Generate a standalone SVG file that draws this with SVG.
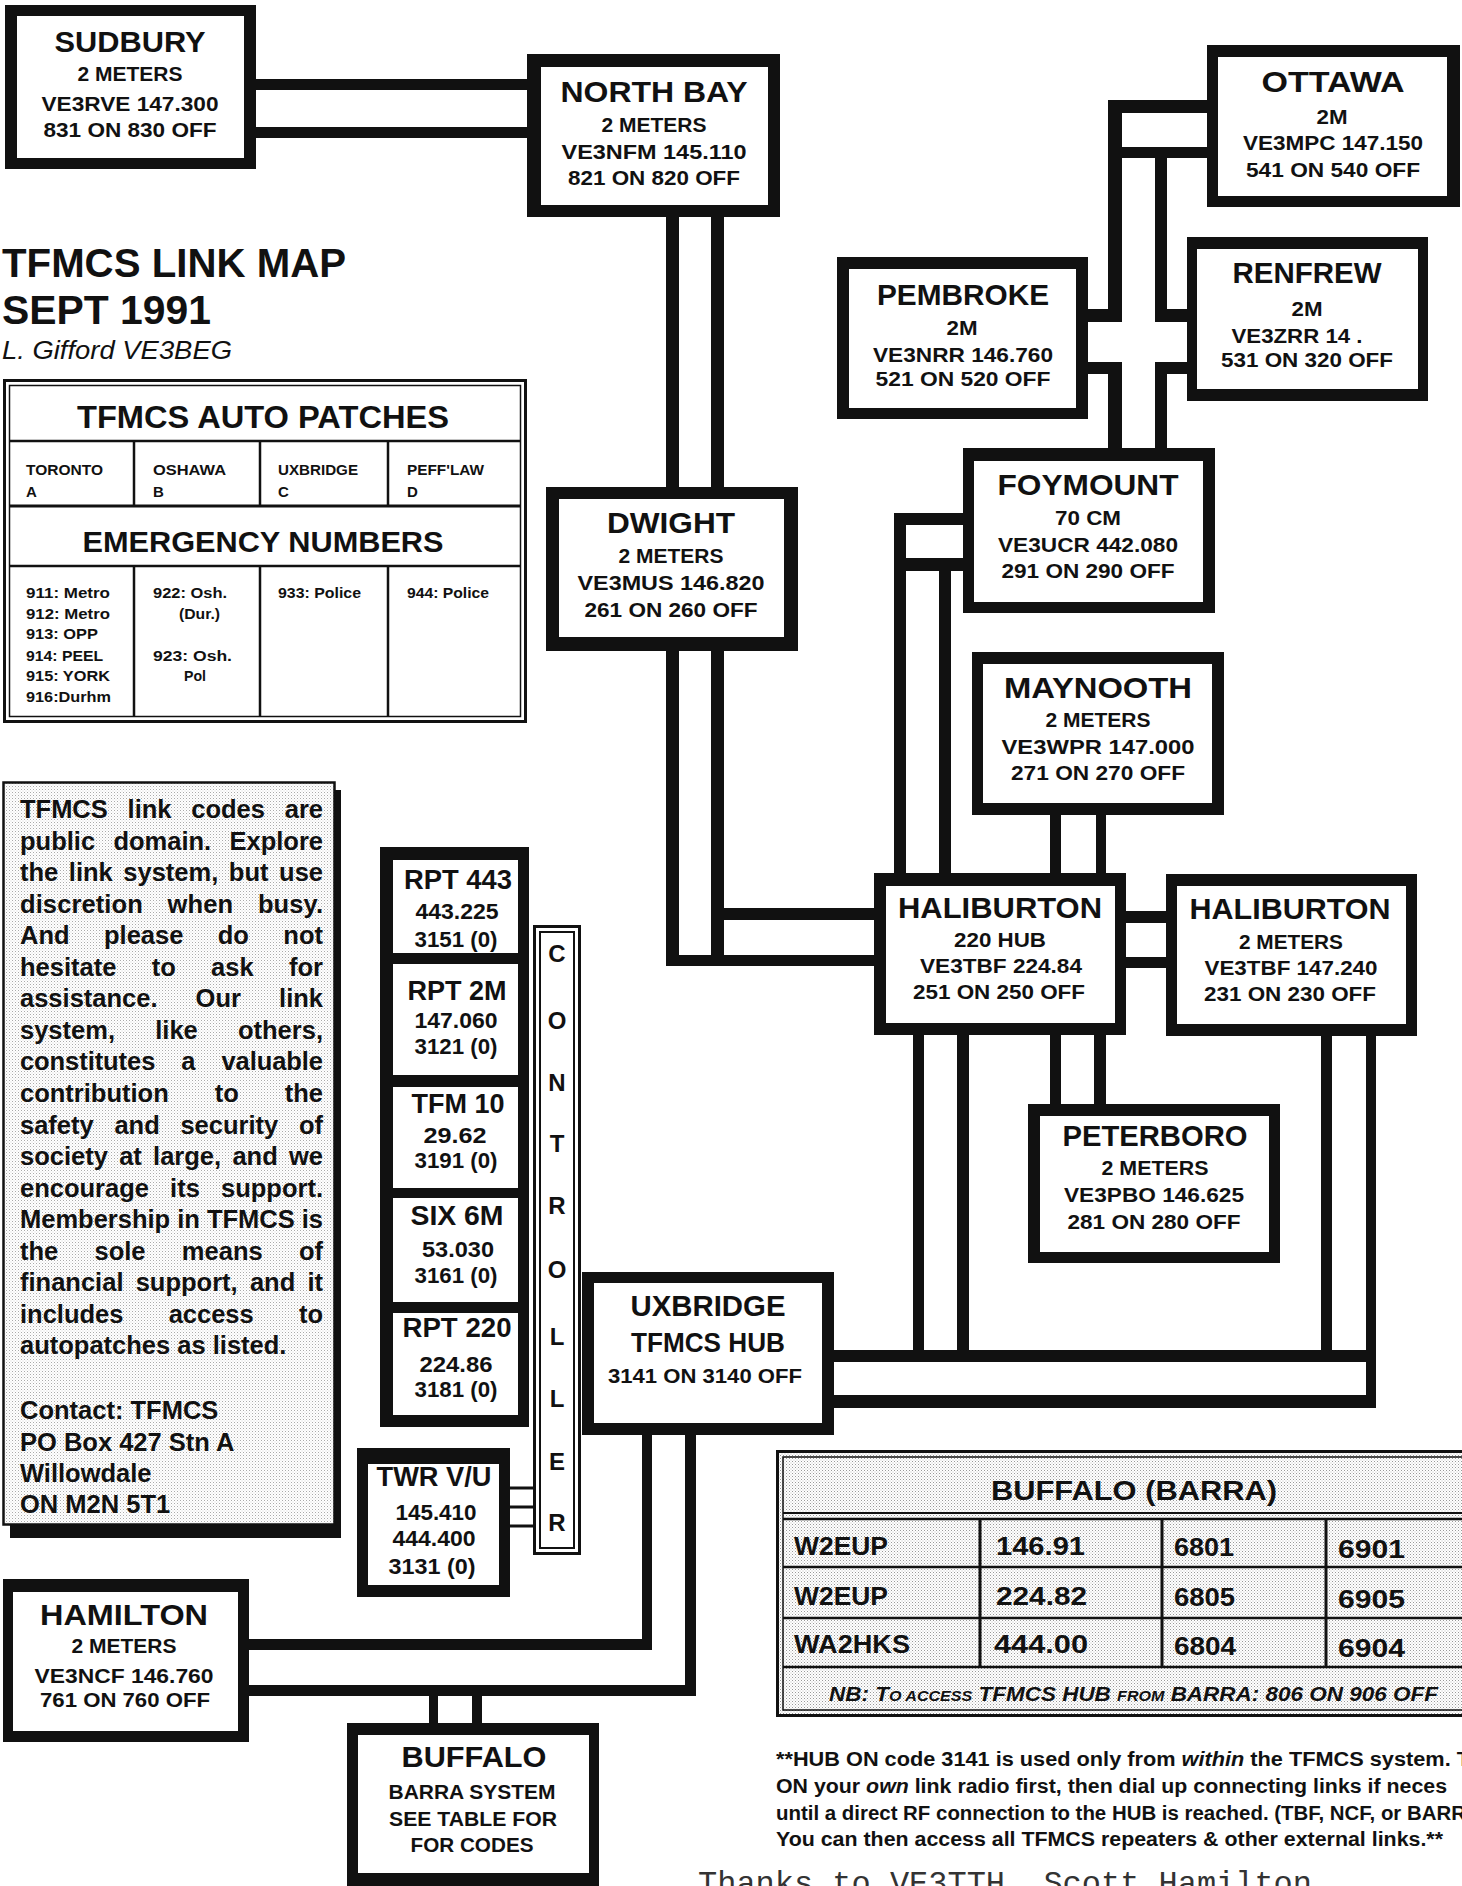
<svg xmlns="http://www.w3.org/2000/svg" width="1462" height="1886" viewBox="0 0 1462 1886">
<defs>
<pattern id="dots" width="3" height="3" patternUnits="userSpaceOnUse"><rect width="3" height="3" fill="#fff"/><rect x="0" y="0" width="1" height="1" fill="#999"/><rect x="1.5" y="1.5" width="1" height="1" fill="#bbb"/></pattern>
<pattern id="dotsL" width="3" height="3" patternUnits="userSpaceOnUse"><rect width="3" height="3" fill="#fff"/><rect x="0" y="0" width="1" height="1" fill="#aaa"/><rect x="1.5" y="1.5" width="1" height="1" fill="#d4d4d4"/></pattern>
<style>
.o{fill:#111}
.i{fill:#fff}
text{font-family:"Liberation Sans",Arial,sans-serif;font-weight:bold;fill:#111}
.h{font-size:30px;text-anchor:middle}
.s{font-size:20px;text-anchor:middle}
.r{font-size:27px;text-anchor:middle}
.rs{font-size:22px;text-anchor:middle}
.p{font-size:25.5px}
.c{font-size:15px}
.f{font-size:20px}
.cl{font-size:24px;text-anchor:middle}
.tb{font-size:25px}
.ln{fill:none;stroke:#111}
</style>
</defs>
<rect width="1462" height="1886" fill="#fff"/>

<g id="connectors" fill="#111">
<rect x="256" y="79" width="271" height="11"/>
<rect x="256" y="127" width="271" height="11"/>
<rect x="666" y="217" width="13" height="270"/>
<rect x="711" y="217" width="13" height="270"/>
<rect x="666" y="651" width="13" height="315"/>
<rect x="711" y="651" width="13" height="304"/>
<rect x="724" y="908" width="150" height="12"/>
<rect x="666" y="955" width="208" height="11"/>
<rect x="1108" y="100" width="99" height="13"/>
<rect x="1122" y="147" width="85" height="11"/>
<rect x="1108" y="100" width="14" height="222"/>
<rect x="1108" y="362" width="14" height="86"/>
<rect x="1155" y="158" width="12" height="164"/>
<rect x="1155" y="362" width="12" height="86"/>
<rect x="1088" y="309" width="20" height="13"/>
<rect x="1088" y="362" width="20" height="12"/>
<rect x="1167" y="309" width="20" height="13"/>
<rect x="1167" y="362" width="20" height="12"/>
<rect x="894" y="513" width="69" height="12"/>
<rect x="906" y="558" width="57" height="13"/>
<rect x="894" y="513" width="12" height="360"/>
<rect x="939" y="571" width="12" height="302"/>
<rect x="1050" y="815" width="11" height="58"/>
<rect x="1096" y="815" width="10" height="58"/>
<rect x="1126" y="911" width="40" height="12"/>
<rect x="1126" y="957" width="40" height="11"/>
<rect x="1050" y="1035" width="11" height="69"/>
<rect x="1094" y="1035" width="12" height="69"/>
<rect x="913" y="1035" width="11" height="315"/>
<rect x="957" y="1035" width="12" height="315"/>
<rect x="1321" y="1036" width="11" height="314"/>
<rect x="1366" y="1036" width="10" height="372"/>
<rect x="834" y="1350" width="542" height="12"/>
<rect x="834" y="1395" width="542" height="13"/>
<rect x="642" y="1435" width="10" height="215"/>
<rect x="685" y="1435" width="11" height="261"/>
<rect x="249" y="1639" width="403" height="11"/>
<rect x="249" y="1685" width="447" height="11"/>
<rect x="429" y="1696" width="9" height="27"/>
<rect x="472" y="1696" width="10" height="27"/>
<rect x="510" y="1486.5" width="24" height="3"/>
<rect x="510" y="1505.5" width="24" height="3"/>
<rect x="510" y="1524.5" width="24" height="3"/>
</g>

<g id="sudbury">
<rect class="o" x="5" y="5" width="251" height="164"/><rect class="i" x="17" y="16" width="227" height="142"/>
<text class="h" x="130" y="52" textLength="151" lengthAdjust="spacingAndGlyphs">SUDBURY</text>
<text class="s" x="130" y="81" textLength="105" lengthAdjust="spacingAndGlyphs">2 METERS</text>
<text class="s" x="130" y="111" textLength="177" lengthAdjust="spacingAndGlyphs">VE3RVE 147.300</text>
<text class="s" x="130" y="137" textLength="173" lengthAdjust="spacingAndGlyphs">831 ON 830 OFF</text>
</g>
<g id="northbay">
<rect class="o" x="527" y="54" width="253" height="163"/><rect class="i" x="541" y="67" width="227" height="138"/>
<text class="h" x="654" y="102" textLength="187" lengthAdjust="spacingAndGlyphs">NORTH BAY</text>
<text class="s" x="654" y="132" textLength="105" lengthAdjust="spacingAndGlyphs">2 METERS</text>
<text class="s" x="654" y="159" textLength="185" lengthAdjust="spacingAndGlyphs">VE3NFM 145.110</text>
<text class="s" x="654" y="185" textLength="172" lengthAdjust="spacingAndGlyphs">821 ON 820 OFF</text>
</g>
<g id="ottawa">
<rect class="o" x="1207" y="45" width="253" height="162"/><rect class="i" x="1218" y="57" width="229" height="139"/>
<text class="h" x="1333" y="92" textLength="143" lengthAdjust="spacingAndGlyphs">OTTAWA</text>
<text class="s" x="1332" y="124" textLength="31" lengthAdjust="spacingAndGlyphs">2M</text>
<text class="s" x="1333" y="150" textLength="180" lengthAdjust="spacingAndGlyphs">VE3MPC 147.150</text>
<text class="s" x="1333" y="177" textLength="174" lengthAdjust="spacingAndGlyphs">541 ON 540 OFF</text>
</g>
<g id="renfrew">
<rect class="o" x="1187" y="237" width="241" height="164"/><rect class="i" x="1197" y="249" width="221" height="140"/>
<text class="h" x="1307" y="283" textLength="149" lengthAdjust="spacingAndGlyphs">RENFREW</text>
<text class="s" x="1307" y="316" textLength="31" lengthAdjust="spacingAndGlyphs">2M</text>
<text class="s" x="1297" y="343" textLength="131" lengthAdjust="spacingAndGlyphs">VE3ZRR 14 .</text>
<text class="s" x="1307" y="367" textLength="172" lengthAdjust="spacingAndGlyphs">531 ON 320 OFF</text>
</g>
<g id="pembroke">
<rect class="o" x="837" y="257" width="251" height="162"/><rect class="i" x="849" y="269" width="227" height="139"/>
<text class="h" x="963" y="305" textLength="172" lengthAdjust="spacingAndGlyphs">PEMBROKE</text>
<text class="s" x="962" y="335" textLength="31" lengthAdjust="spacingAndGlyphs">2M</text>
<text class="s" x="963" y="362" textLength="180" lengthAdjust="spacingAndGlyphs">VE3NRR 146.760</text>
<text class="s" x="963" y="386" textLength="175" lengthAdjust="spacingAndGlyphs">521 ON 520 OFF</text>
</g>
<g id="foymount">
<rect class="o" x="963" y="448" width="252" height="165"/><rect class="i" x="974" y="461" width="229" height="141"/>
<text class="h" x="1088" y="495" textLength="181" lengthAdjust="spacingAndGlyphs">FOYMOUNT</text>
<text class="s" x="1088" y="525" textLength="66" lengthAdjust="spacingAndGlyphs">70 CM</text>
<text class="s" x="1088" y="552" textLength="180" lengthAdjust="spacingAndGlyphs">VE3UCR 442.080</text>
<text class="s" x="1088" y="578" textLength="173" lengthAdjust="spacingAndGlyphs">291 ON 290 OFF</text>
</g>
<g id="dwight">
<rect class="o" x="546" y="487" width="252" height="164"/><rect class="i" x="559" y="499" width="225" height="138"/>
<text class="h" x="671" y="533" textLength="128" lengthAdjust="spacingAndGlyphs">DWIGHT</text>
<text class="s" x="671" y="563" textLength="105" lengthAdjust="spacingAndGlyphs">2 METERS</text>
<text class="s" x="671" y="590" textLength="187" lengthAdjust="spacingAndGlyphs">VE3MUS 146.820</text>
<text class="s" x="671" y="617" textLength="173" lengthAdjust="spacingAndGlyphs">261 ON 260 OFF</text>
</g>
<g id="maynooth">
<rect class="o" x="972" y="652" width="252" height="163"/><rect class="i" x="983" y="664" width="229" height="139"/>
<text class="h" x="1098" y="698" textLength="188" lengthAdjust="spacingAndGlyphs">MAYNOOTH</text>
<text class="s" x="1098" y="727" textLength="105" lengthAdjust="spacingAndGlyphs">2 METERS</text>
<text class="s" x="1098" y="754" textLength="193" lengthAdjust="spacingAndGlyphs">VE3WPR 147.000</text>
<text class="s" x="1098" y="780" textLength="174" lengthAdjust="spacingAndGlyphs">271 ON 270 OFF</text>
</g>
<g id="haliburton220">
<rect class="o" x="874" y="873" width="252" height="162"/><rect class="i" x="886" y="886" width="229" height="137"/>
<text class="h" x="1000" y="918" textLength="204" lengthAdjust="spacingAndGlyphs">HALIBURTON</text>
<text class="s" x="1000" y="947" textLength="92" lengthAdjust="spacingAndGlyphs">220 HUB</text>
<text class="s" x="1001" y="973" textLength="162" lengthAdjust="spacingAndGlyphs">VE3TBF 224.84</text>
<text class="s" x="999" y="999" textLength="172" lengthAdjust="spacingAndGlyphs">251 ON 250 OFF</text>
</g>
<g id="haliburton2m">
<rect class="o" x="1166" y="874" width="251" height="162"/><rect class="i" x="1177" y="886" width="229" height="138"/>
<text class="h" x="1290" y="919" textLength="201" lengthAdjust="spacingAndGlyphs">HALIBURTON</text>
<text class="s" x="1291" y="949" textLength="104" lengthAdjust="spacingAndGlyphs">2 METERS</text>
<text class="s" x="1291" y="975" textLength="173" lengthAdjust="spacingAndGlyphs">VE3TBF 147.240</text>
<text class="s" x="1290" y="1001" textLength="172" lengthAdjust="spacingAndGlyphs">231 ON 230 OFF</text>
</g>
<g id="peterboro">
<rect class="o" x="1028" y="1104" width="252" height="159"/><rect class="i" x="1040" y="1116" width="229" height="136"/>
<text class="h" x="1155" y="1146" textLength="185" lengthAdjust="spacingAndGlyphs">PETERBORO</text>
<text class="s" x="1155" y="1175" textLength="107" lengthAdjust="spacingAndGlyphs">2 METERS</text>
<text class="s" x="1154" y="1202" textLength="180" lengthAdjust="spacingAndGlyphs">VE3PBO 146.625</text>
<text class="s" x="1154" y="1229" textLength="173" lengthAdjust="spacingAndGlyphs">281 ON 280 OFF</text>
</g>
<g id="uxbridge">
<rect class="o" x="582" y="1272" width="252" height="163"/><rect class="i" x="594" y="1283" width="228" height="140"/>
<text class="h" x="708" y="1316" textLength="155" lengthAdjust="spacingAndGlyphs">UXBRIDGE</text>
<text class="h" x="708" y="1352" textLength="154" lengthAdjust="spacingAndGlyphs" style="font-size:28px">TFMCS HUB</text>
<text class="s" x="705" y="1383" textLength="194" lengthAdjust="spacingAndGlyphs">3141 ON 3140 OFF</text>
</g>
<g id="hamilton">
<rect class="o" x="3" y="1579" width="246" height="163"/><rect class="i" x="13" y="1592" width="225" height="139"/>
<text class="h" x="124" y="1625" textLength="168" lengthAdjust="spacingAndGlyphs">HAMILTON</text>
<text class="s" x="124" y="1653" textLength="105" lengthAdjust="spacingAndGlyphs">2 METERS</text>
<text class="s" x="124" y="1683" textLength="179" lengthAdjust="spacingAndGlyphs">VE3NCF 146.760</text>
<text class="s" x="125" y="1707" textLength="170" lengthAdjust="spacingAndGlyphs">761 ON 760 OFF</text>
</g>
<g id="buffalo">
<rect class="o" x="347" y="1723" width="252" height="170"/><rect class="i" x="358" y="1735" width="231" height="138"/>
<text class="h" x="474" y="1767" textLength="145" lengthAdjust="spacingAndGlyphs">BUFFALO</text>
<text class="s" x="472" y="1799" textLength="167" lengthAdjust="spacingAndGlyphs">BARRA SYSTEM</text>
<text class="s" x="473" y="1826" textLength="168" lengthAdjust="spacingAndGlyphs">SEE TABLE  FOR</text>
<text class="s" x="472" y="1852" textLength="123" lengthAdjust="spacingAndGlyphs">FOR CODES</text>
</g>

<g id="repeaters">
<rect class="o" x="380" y="847" width="149" height="580"/>
<rect class="i" x="393" y="860" width="125" height="93"/>
<rect class="i" x="393" y="964" width="125" height="111"/>
<rect class="i" x="393" y="1087" width="125" height="101"/>
<rect class="i" x="393" y="1198" width="125" height="104"/>
<rect class="i" x="393" y="1313" width="125" height="102"/>
<text class="r" x="458" y="889" textLength="108" lengthAdjust="spacingAndGlyphs">RPT 443</text>
<text class="rs" x="457" y="919" textLength="83" lengthAdjust="spacingAndGlyphs">443.225</text>
<text class="rs" x="456" y="947" textLength="83" lengthAdjust="spacingAndGlyphs">3151 (0)</text>
<text class="r" x="457" y="1000" textLength="99" lengthAdjust="spacingAndGlyphs">RPT 2M</text>
<text class="rs" x="456" y="1028" textLength="83" lengthAdjust="spacingAndGlyphs">147.060</text>
<text class="rs" x="456" y="1054" textLength="83" lengthAdjust="spacingAndGlyphs">3121 (0)</text>
<text class="r" x="458" y="1113" textLength="93" lengthAdjust="spacingAndGlyphs">TFM 10</text>
<text class="rs" x="455" y="1143" textLength="63" lengthAdjust="spacingAndGlyphs">29.62</text>
<text class="rs" x="456" y="1168" textLength="83" lengthAdjust="spacingAndGlyphs">3191 (0)</text>
<text class="r" x="457" y="1225" textLength="93" lengthAdjust="spacingAndGlyphs">SIX 6M</text>
<text class="rs" x="458" y="1257" textLength="72" lengthAdjust="spacingAndGlyphs">53.030</text>
<text class="rs" x="456" y="1283" textLength="83" lengthAdjust="spacingAndGlyphs">3161 (0)</text>
<text class="r" x="457" y="1337" textLength="109" lengthAdjust="spacingAndGlyphs">RPT 220</text>
<text class="rs" x="456" y="1372" textLength="73" lengthAdjust="spacingAndGlyphs">224.86</text>
<text class="rs" x="456" y="1397" textLength="83" lengthAdjust="spacingAndGlyphs">3181 (0)</text>
</g>
<g id="twr">
<rect class="o" x="357" y="1448" width="153" height="149"/><rect class="i" x="368" y="1464" width="131" height="121"/>
<text class="r" x="434" y="1486" textLength="115" lengthAdjust="spacingAndGlyphs">TWR V/U</text>
<text class="rs" x="436" y="1520" textLength="81" lengthAdjust="spacingAndGlyphs">145.410</text>
<text class="rs" x="434" y="1546" textLength="83" lengthAdjust="spacingAndGlyphs">444.400</text>
<text class="rs" x="432" y="1574" textLength="87" lengthAdjust="spacingAndGlyphs">3131 (0)</text>
</g>
<g id="controller">
<rect class="ln" x="534.5" y="926.5" width="45" height="627" stroke-width="3"/>
<rect class="ln" x="540" y="932" width="34" height="616" stroke-width="2"/>
<text class="cl" x="557" y="962">C</text>
<text class="cl" x="557" y="1029">O</text>
<text class="cl" x="557" y="1091">N</text>
<text class="cl" x="557" y="1152">T</text>
<text class="cl" x="557" y="1214">R</text>
<text class="cl" x="557" y="1278">O</text>
<text class="cl" x="557" y="1345">L</text>
<text class="cl" x="557" y="1407">L</text>
<text class="cl" x="557" y="1470">E</text>
<text class="cl" x="557" y="1531">R</text>
</g>

<g id="title">
<text x="2" y="277" style="font-size:40px" textLength="344" lengthAdjust="spacingAndGlyphs">TFMCS LINK MAP</text>
<text x="2" y="324" style="font-size:40px" textLength="209" lengthAdjust="spacingAndGlyphs">SEPT 1991</text>
<text x="2" y="359" style="font-size:26px;font-weight:normal;font-style:italic" textLength="230" lengthAdjust="spacingAndGlyphs">L. Gifford VE3BEG</text>
</g>

<g id="autopatches">
<rect class="ln" x="4.5" y="380.5" width="521" height="341" stroke-width="3"/>
<rect class="ln" x="9.5" y="385.5" width="511" height="331" stroke-width="1.5"/>
<line class="ln" x1="9" y1="441" x2="521" y2="441" stroke-width="2.5"/>
<line class="ln" x1="9" y1="506" x2="521" y2="506" stroke-width="3"/>
<line class="ln" x1="9" y1="566" x2="521" y2="566" stroke-width="2.5"/>
<path class="ln" stroke-width="2.5" d="M134 441V506M260 441V506M388 441V506M134 566V717M260 566V717M388 566V717"/>
<text x="263" y="428" style="font-size:31px;text-anchor:middle" textLength="372" lengthAdjust="spacingAndGlyphs">TFMCS AUTO PATCHES</text>
<text class="c" x="26" y="475" textLength="77" lengthAdjust="spacingAndGlyphs">TORONTO</text><text class="c" x="26" y="497">A</text>
<text class="c" x="153" y="475" textLength="73" lengthAdjust="spacingAndGlyphs">OSHAWA</text><text class="c" x="153" y="497">B</text>
<text class="c" x="278" y="475" textLength="80" lengthAdjust="spacingAndGlyphs">UXBRIDGE</text><text class="c" x="278" y="497">C</text>
<text class="c" x="407" y="475" textLength="77" lengthAdjust="spacingAndGlyphs">PEFF'LAW</text><text class="c" x="407" y="497">D</text>
<text x="263" y="552" style="font-size:29px;text-anchor:middle" textLength="361" lengthAdjust="spacingAndGlyphs">EMERGENCY NUMBERS</text>
<text class="c" x="26" y="598" textLength="84" lengthAdjust="spacingAndGlyphs">911: Metro</text>
<text class="c" x="26" y="619" textLength="84" lengthAdjust="spacingAndGlyphs">912: Metro</text>
<text class="c" x="26" y="639" textLength="72" lengthAdjust="spacingAndGlyphs">913: OPP</text>
<text class="c" x="26" y="661" textLength="77" lengthAdjust="spacingAndGlyphs">914: PEEL</text>
<text class="c" x="26" y="681" textLength="84" lengthAdjust="spacingAndGlyphs">915: YORK</text>
<text class="c" x="26" y="702" textLength="85" lengthAdjust="spacingAndGlyphs">916:Durhm</text>
<text class="c" x="153" y="598" textLength="74" lengthAdjust="spacingAndGlyphs">922: Osh.</text>
<text class="c" x="179" y="619" textLength="41" lengthAdjust="spacingAndGlyphs">(Dur.)</text>
<text class="c" x="153" y="661" textLength="79" lengthAdjust="spacingAndGlyphs">923:  Osh.</text>
<text class="c" x="184" y="681" textLength="22" lengthAdjust="spacingAndGlyphs">Pol</text>
<text class="c" x="278" y="598" textLength="83" lengthAdjust="spacingAndGlyphs">933: Police</text>
<text class="c" x="407" y="598" textLength="82" lengthAdjust="spacingAndGlyphs">944: Police</text>
</g>

<g id="notice">
<rect x="10" y="790" width="331" height="748" fill="#111"/>
<rect x="3.5" y="782.5" width="331" height="742" fill="url(#dotsL)" stroke="#111" stroke-width="2.5"/>
<text class="p" x="20" y="818" word-spacing="12.7" textLength="303" lengthAdjust="spacing">TFMCS link codes are</text>
<text class="p" x="20" y="850" word-spacing="11.2" textLength="303" lengthAdjust="spacing">public domain. Explore</text>
<text class="p" x="20" y="881" word-spacing="3.5" textLength="303" lengthAdjust="spacing">the link system, but use</text>
<text class="p" x="20" y="913" word-spacing="17.6" textLength="303" lengthAdjust="spacing">discretion when busy.</text>
<text class="p" x="20" y="944" word-spacing="27.3" textLength="303" lengthAdjust="spacing">And please do not</text>
<text class="p" x="20" y="976" word-spacing="28.2" textLength="303" lengthAdjust="spacing">hesitate to ask for</text>
<text class="p" x="20" y="1007" word-spacing="31" textLength="303" lengthAdjust="spacing">assistance. Our link</text>
<text class="p" x="20" y="1039" word-spacing="33.1" textLength="303" lengthAdjust="spacing">system, like others,</text>
<text class="p" x="20" y="1070" word-spacing="19" textLength="303" lengthAdjust="spacing">constitutes a valuable</text>
<text class="p" x="20" y="1102" word-spacing="38.9" textLength="303" lengthAdjust="spacing">contribution to the</text>
<text class="p" x="20" y="1134" word-spacing="13.6" textLength="303" lengthAdjust="spacing">safety and security of</text>
<text class="p" x="20" y="1165" word-spacing="4.2" textLength="303" lengthAdjust="spacing">society at large, and we</text>
<text class="p" x="20" y="1197" word-spacing="14.1" textLength="303" lengthAdjust="spacing">encourage its support.</text>
<text class="p" x="20" y="1228" textLength="303" lengthAdjust="spacing">Membership in TFMCS is</text>
<text class="p" x="20" y="1260" word-spacing="29.2" textLength="303" lengthAdjust="spacing">the sole means of</text>
<text class="p" x="20" y="1291" word-spacing="5.1" textLength="303" lengthAdjust="spacing">financial support, and it</text>
<text class="p" x="20" y="1323" word-spacing="38.1" textLength="303" lengthAdjust="spacing">includes access to</text>
<text class="p" x="20" y="1354">autopatches as listed.</text>
<text class="p" x="20" y="1419">Contact: TFMCS</text>
<text class="p" x="20" y="1451">PO Box 427 Stn A</text>
<text class="p" x="20" y="1482">Willowdale</text>
<text class="p" x="20" y="1513">ON M2N 5T1</text>
</g>

<g id="barra">
<rect x="776" y="1451" width="700" height="266" fill="url(#dots)"/>
<rect class="ln" x="777.5" y="1451.5" width="700" height="264" stroke-width="3"/>
<rect class="ln" x="783" y="1457" width="700" height="253" stroke-width="1.5"/>
<line class="ln" x1="783" y1="1513" x2="1462" y2="1513" stroke-width="2"/>
<line class="ln" x1="783" y1="1519" x2="1462" y2="1519" stroke-width="2.5"/>
<line class="ln" x1="783" y1="1567" x2="1462" y2="1567" stroke-width="2.5"/>
<line class="ln" x1="783" y1="1618" x2="1462" y2="1618" stroke-width="2.5"/>
<line class="ln" x1="783" y1="1667" x2="1462" y2="1667" stroke-width="2.5"/>
<path class="ln" stroke-width="3" d="M980 1519V1667M1162 1519V1667M1326 1519V1667"/>
<text x="1134" y="1500" style="font-size:27px;text-anchor:middle" textLength="286" lengthAdjust="spacingAndGlyphs">BUFFALO (BARRA)</text>
<text class="tb" x="794" y="1555" textLength="94" lengthAdjust="spacingAndGlyphs">W2EUP</text>
<text class="tb" x="996" y="1555" textLength="89" lengthAdjust="spacingAndGlyphs">146.91</text>
<text class="tb" x="1174" y="1556" textLength="60" lengthAdjust="spacingAndGlyphs">6801</text>
<text class="tb" x="1338" y="1558" textLength="67" lengthAdjust="spacingAndGlyphs">6901</text>
<text class="tb" x="794" y="1605" textLength="94" lengthAdjust="spacingAndGlyphs">W2EUP</text>
<text class="tb" x="996" y="1605" textLength="91" lengthAdjust="spacingAndGlyphs">224.82</text>
<text class="tb" x="1174" y="1606" textLength="61" lengthAdjust="spacingAndGlyphs">6805</text>
<text class="tb" x="1338" y="1608" textLength="67" lengthAdjust="spacingAndGlyphs">6905</text>
<text class="tb" x="794" y="1653" textLength="116" lengthAdjust="spacingAndGlyphs">WA2HKS</text>
<text class="tb" x="994" y="1653" textLength="94" lengthAdjust="spacingAndGlyphs">444.00</text>
<text class="tb" x="1174" y="1655" textLength="62" lengthAdjust="spacingAndGlyphs">6804</text>
<text class="tb" x="1338" y="1657" textLength="67" lengthAdjust="spacingAndGlyphs">6904</text>
<text x="829" y="1701" style="font-size:21px;font-style:italic" textLength="609" lengthAdjust="spacingAndGlyphs">NB: T<tspan style="font-size:15px">O ACCESS</tspan> TFMCS HUB <tspan style="font-size:15px">FROM</tspan> BARRA: 806 ON 906 OFF</text>
</g>

<g id="footnote">
<text class="f" x="776" y="1766" textLength="694" lengthAdjust="spacingAndGlyphs">**HUB ON code 3141 is used only from <tspan font-style="italic">within</tspan> the TFMCS system. T</text>
<text class="f" x="776" y="1793" textLength="671" lengthAdjust="spacingAndGlyphs">ON your <tspan font-style="italic">own</tspan> link radio first, then dial up connecting links if neces</text>
<text class="f" x="776" y="1820" textLength="690" lengthAdjust="spacingAndGlyphs">until a direct RF connection to the HUB is reached. (TBF, NCF, or BARR</text>
<text class="f" x="776" y="1846" textLength="667" lengthAdjust="spacingAndGlyphs">You can then access all TFMCS repeaters &amp; other external links.**</text>
<text x="698" y="1893" style="font-family:'Liberation Mono','Courier New',monospace;font-weight:normal;font-size:32px;fill:#333" textLength="614" lengthAdjust="spacingAndGlyphs">Thanks to VE3TTH, Scott Hamilton</text>
</g>
</svg>
